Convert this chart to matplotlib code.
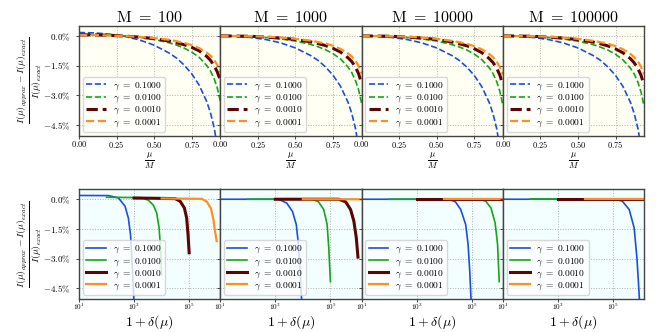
"""Relative error of the approximate I(mu) for several M and gamma values."""

import matplotlib

matplotlib.use("Agg")
import matplotlib.pyplot as plt
from matplotlib.ticker import FixedLocator, FuncFormatter

plt.rcParams["mathtext.fontset"] = "cm"
plt.rcParams["font.family"] = ["serif"]
plt.rcParams["font.serif"] = ["DejaVu Serif"]

M_VALUES = ["100", "1000", "10000", "100000"]
GAMMA_LABELS = ["0.1000", "0.0100", "0.0010", "0.0001"]

# top row: relative error (%) against mu / M
MU_OVER_M = [0, 0.1, 0.2, 0.3, 0.4, 0.5, 0.6, 0.65, 0.7, 0.75, 0.8, 0.85, 0.875, 0.9, 0.92, 0.94]

top_m100 = [
    [0.17, 0.15, 0.09, -0.02, -0.20, -0.47, -0.87, -1.13, -1.48, -1.92, -2.50, -3.33, -3.90, -4.68, -5.60, -6.60],
    [0.08, 0.07, 0.05, 0.00, -0.07, -0.18, -0.35, -0.47, -0.62, -0.82, -1.09, -1.50, -1.78, -2.19, -2.64, -3.30],
    [0.05, 0.05, 0.03, -0.01, -0.06, -0.14, -0.26, -0.35, -0.45, -0.58, -0.76, -1.04, -1.24, -1.52, -1.82, -2.25],
    [0.04, 0.04, 0.02, -0.01, -0.05, -0.11, -0.20, -0.27, -0.36, -0.47, -0.62, -0.85, -1.00, -1.22, -1.47, -1.82],
]
top_m1000 = [
    [0.00, -0.02, -0.08, -0.18, -0.35, -0.61, -0.99, -1.24, -1.57, -1.99, -2.55, -3.36, -3.93, -4.70, -5.65, -6.70],
    [0.00, -0.01, -0.03, -0.08, -0.15, -0.26, -0.43, -0.55, -0.70, -0.90, -1.17, -1.58, -1.86, -2.27, -2.72, -3.40],
    [0.00, -0.01, -0.02, -0.06, -0.11, -0.18, -0.30, -0.39, -0.49, -0.63, -0.82, -1.11, -1.30, -1.59, -1.91, -2.40],
    [0.00, -0.01, -0.02, -0.04, -0.08, -0.15, -0.24, -0.31, -0.39, -0.50, -0.66, -0.89, -1.04, -1.27, -1.52, -1.90],
]
top_m10000 = [
    [0.00, -0.02, -0.08, -0.18, -0.35, -0.61, -0.99, -1.24, -1.58, -2.00, -2.57, -3.38, -3.95, -4.72, -5.67, -6.70],
    [0.00, -0.01, -0.03, -0.08, -0.15, -0.26, -0.44, -0.56, -0.71, -0.92, -1.20, -1.62, -1.91, -2.33, -2.80, -3.50],
    [0.00, -0.01, -0.02, -0.06, -0.11, -0.18, -0.31, -0.40, -0.50, -0.65, -0.85, -1.15, -1.35, -1.65, -1.98, -2.48],
    [0.00, -0.01, -0.02, -0.04, -0.08, -0.15, -0.25, -0.32, -0.40, -0.52, -0.68, -0.92, -1.08, -1.31, -1.57, -1.95],
]
top_m100000 = [
    [0.00, -0.02, -0.08, -0.18, -0.35, -0.61, -0.99, -1.24, -1.58, -2.00, -2.57, -3.38, -3.95, -4.72, -5.67, -6.70],
    [0.00, -0.01, -0.03, -0.08, -0.15, -0.27, -0.44, -0.57, -0.72, -0.93, -1.22, -1.64, -1.94, -2.37, -2.85, -3.57],
    [0.00, -0.01, -0.02, -0.06, -0.11, -0.19, -0.31, -0.40, -0.51, -0.66, -0.86, -1.16, -1.37, -1.67, -2.00, -2.50],
    [0.00, -0.01, -0.02, -0.04, -0.08, -0.15, -0.25, -0.32, -0.40, -0.52, -0.68, -0.92, -1.08, -1.31, -1.57, -1.95],
]

# bottom row: relative error (%) against 1 + delta(mu), one x list per curve
bot_x_m100 = [
    [10, 117, 269, 468, 617, 741, 831, 920, 978, 1000],
    [100, 500, 1900, 3300, 5000, 6600, 8100, 9100, 10000],
    [1000, 5000, 31000, 47000, 67000, 81000, 91000, 100000],
    [10000, 50000, 290000, 440000, 620000, 760000, 850000, 1000000],
]
bot_y_m100 = [
    [0.19, 0.185, 0.07, -0.35, -0.94, -1.78, -2.96, -4.31, -5.07, -5.5],
    [0.10, 0.09, 0.08, -0.05, -0.30, -0.69, -1.45, -2.46, -3.84],
    [0.06, 0.05, 0.03, -0.10, -0.44, -0.94, -1.78, -2.71],
    [0.04, 0.03, 0.02, -0.13, -0.47, -1.03, -1.53, -2.12],
]
bot_x_m1000 = [
    [10, 1290, 2570, 4170, 5750, 6900, 7940, 8700, 10000],
    [100, 21400, 37000, 57000, 76000, 87000, 100000],
    [1000, 200000, 355000, 540000, 710000, 870000, 1000000],
    [10000, 100000, 1000000, 1400000],
]
bot_y_m1000 = [
    [0.0, 0.0, -0.19, -0.61, -1.28, -2.29, -3.64, -4.8, -5.8],
    [0.0, 0.0, -0.13, -0.52, -1.28, -2.46, -4.17],
    [0.0, 0.0, -0.13, -0.52, -1.11, -1.95, -2.93],
    [0.0, 0.0, 0.0, -0.01],
]
bot_x_m10000 = [
    [10, 14800, 25700, 40000, 60500, 74000, 85000, 100000],
    [100, 186000, 324000, 500000, 710000, 870000, 1000000],
    [1000, 100000, 1400000],
    [10000, 100000, 1400000],
]
bot_y_m10000 = [
    [0.0, 0.0, -0.13, -0.52, -1.28, -2.29, -3.64, -5.8],
    [0.0, 0.0, -0.10, -0.44, -1.20, -2.29, -4.17],
    [0.0, 0.0, 0.0],
    [0.0, 0.0, 0.0],
]
bot_x_m100000 = [
    [10, 126000, 219000, 389000, 589000, 741000, 851000, 1000000],
    [100, 100000, 1400000],
    [1000, 100000, 1400000],
    [10000, 100000, 1400000],
]
bot_y_m100000 = [
    [0.0, 0.0, -0.10, -0.52, -1.45, -2.96, -4.31, -6.0],
    [0.0, 0.0, 0.0],
    [0.0, 0.0, 0.0],
    [0.0, 0.0, 0.0],
]

TOP_DATA = [top_m100, top_m1000, top_m10000, top_m100000]
BOT_X = [bot_x_m100, bot_x_m1000, bot_x_m10000, bot_x_m100000]
BOT_Y = [bot_y_m100, bot_y_m1000, bot_y_m10000, bot_y_m100000]

COLORS = ["#1a4fdb", "#13a813", "#5c0505", "#ff8f1f"]
LINE_WIDTHS = [1.2, 1.2, 2.2, 1.6]
Y_TICKS = [0.0, -1.5, -3.0, -4.5]
YLABEL = r"$\frac{I(\mu)_{approx} - I(\mu)_{exact}}{I(\mu)_{exact}}$"


def style_axes(ax, facecolor):
    ax.set_facecolor(facecolor)
    ax.grid(True, ls=":", color="#b0b0b0", lw=0.7)
    for spine in ax.spines.values():
        spine.set_color("#444444")
        spine.set_linewidth(1.0)
    ax.tick_params(labelsize=6.5, length=2.5, width=0.7, color="#444444")
    ax.tick_params(axis="x", length=2, pad=0.5, labelsize=6.0)
    ax.yaxis.set_major_locator(FixedLocator(Y_TICKS))
    ax.yaxis.set_major_formatter(FuncFormatter(lambda v, _: rf"${v:.1f}\%$"))
    ax.set_ylim(-5.05, 0.5)


def add_legend(ax):
    ax.legend(
        loc="lower left",
        fontsize=6.8,
        handlelength=2.1,
        handletextpad=0.7,
        labelspacing=0.05,
        borderpad=0.35,
        borderaxespad=0.4,
        framealpha=0.8,
        edgecolor="#d0d0d0",
    )


fig, axes = plt.subplots(2, 4, figsize=(6.64, 3.32), dpi=100, sharey="row")
fig.subplots_adjust(left=0.119, right=0.970, top=0.9217, bottom=0.0994, wspace=0.0, hspace=0.49)

for col, m_value in enumerate(M_VALUES):
    ax = axes[0, col]
    style_axes(ax, "#fffff4")
    for series, color, lw, glabel in zip(TOP_DATA[col], COLORS, LINE_WIDTHS, GAMMA_LABELS):
        ax.plot(MU_OVER_M, series, ls="--", color=color, lw=lw, label=rf"$\gamma\ =\ {glabel}$")
    ax.set_xlim(0, 0.94)
    ax.xaxis.set_major_locator(FixedLocator([0, 0.25, 0.5, 0.75]))
    ax.xaxis.set_major_formatter(FuncFormatter(lambda v, _: rf"${v:.2f}$"))
    ax.set_title(rf"$\mathrm{{M}}\ =\ {m_value}$", fontsize=11.5, pad=3)
    ax.set_xlabel(r"$\frac{\mu}{M}$", fontsize=9)
    ax.xaxis.set_label_coords(0.5, -0.135)
    add_legend(ax)

    ax = axes[1, col]
    style_axes(ax, "#f3ffff")
    for xs, ys, color, lw, glabel in zip(BOT_X[col], BOT_Y[col], COLORS, LINE_WIDTHS, GAMMA_LABELS):
        ax.plot(xs, ys, ls="-", color=color, lw=lw, label=rf"$\gamma\ =\ {glabel}$")
    ax.set_xscale("log")
    ax.set_xlim(10, 1.35e6)
    ax.xaxis.set_major_locator(FixedLocator([1e1, 1e3, 1e5]))
    ax.xaxis.set_minor_locator(FixedLocator([]))
    ax.xaxis.set_major_formatter(FuncFormatter(lambda v, _: rf"$10^{{{len(str(int(round(v)))) - 1}}}$"))
    ax.tick_params(axis="x", labelsize=5.2, pad=0.0)
    ax.set_xlabel(r"$1 + \delta(\mu)$", fontsize=10)
    ax.xaxis.set_label_coords(0.5, -0.13)
    add_legend(ax)

    if col > 0:
        axes[0, col].tick_params(labelleft=False)
        axes[1, col].tick_params(labelleft=False)

for ax in axes[:, 0]:
    ax.set_ylabel(YLABEL, fontsize=10)
    ax.yaxis.set_label_coords(-0.25, 0.5)

fig.savefig("out.png", dpi=100)
